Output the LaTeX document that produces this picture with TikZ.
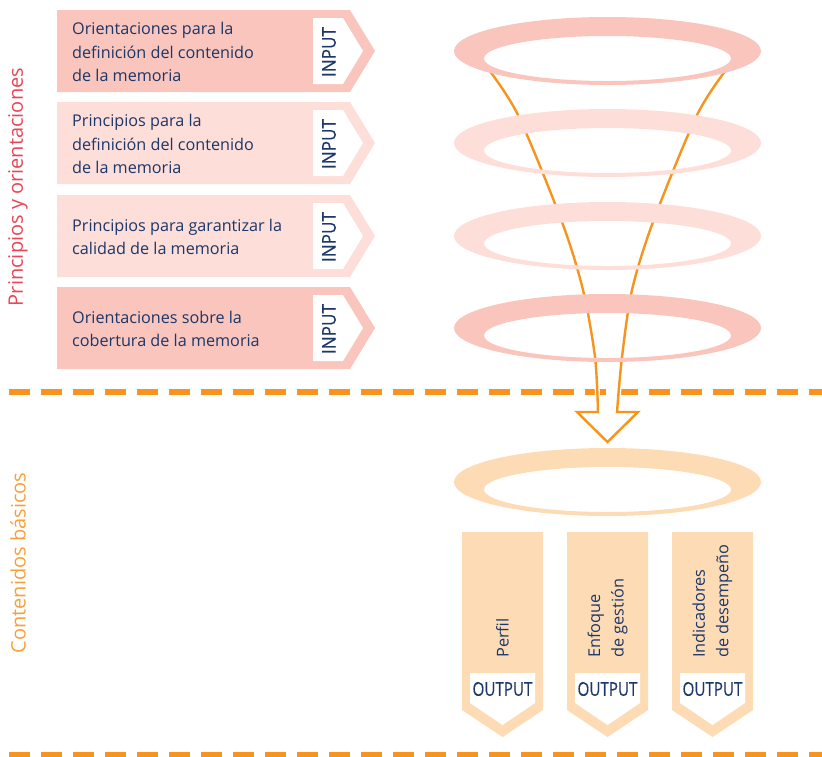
\documentclass[tikz,border=0pt]{standalone}
\usepackage{fontspec}
\setmainfont{Open Sans}
\newfontfamily\condf[FakeStretch=0.8,FakeBold=0.4]{Open Sans}
\newfontfamily\condg[FakeStretch=0.9,FakeBold=0.4]{Open Sans}
\definecolor{navy}{RGB}{28,55,105}
\definecolor{pinkA}{RGB}{249,197,189}
\definecolor{pinkB}{RGB}{253,222,216}
\definecolor{peach}{RGB}{253,220,181}
\definecolor{orng}{RGB}{247,148,30}
\definecolor{redlab}{RGB}{233,69,86}
\definecolor{orlab}{RGB}{247,160,60}
\begin{document}
\begin{tikzpicture}[x=1pt,y=-1pt,
  boxtext/.style={anchor=west, align=left, text=navy, font=\fontsize{16.2}{23.5}\selectfont, inner sep=0pt},
  intag/.style={rotate=90, text=navy, font=\condg\fontsize{19}{22}\selectfont, inner sep=0pt},
  outtag/.style={text=navy, font=\condf\fontsize{19}{22}\selectfont, inner sep=0pt},
  outtext/.style={rotate=90, anchor=west, align=left, text=navy, font=\fontsize{16.3}{23.5}\selectfont, inner sep=0pt},
  sectlab/.style={rotate=90, font=\fontsize{20}{24}\selectfont, inner sep=0pt},
  sepline/.style={orng, line width=6.3pt, dash pattern=on 21pt off 11pt},
  funnel/.style={orng, line width=2.4pt, line join=miter},
  halo/.style={white, line width=5pt},
]
\useasboundingbox (0,0) rectangle (822,756);

% section labels
\node[sectlab, text=redlab] (secA) at (18,187) {Principios y orientaciones};
\node[sectlab, text=orlab] (secB) at (18,563) {Contenidos básicos};

% separator lines
\draw[sepline] (8.5,392) -- (822,392);
\draw[sepline] (8.5,755.5) -- (822,755.5);

% input boxes
\foreach \cy/\col/\txt/\nm in {
  51/pinkA/{Orientaciones para la\\definición del contenido\\de la memoria}/a,
  143/pinkB/{Principios para la\\definición del contenido\\de la memoria}/b,
  236/pinkB/{Principios para garantizar la\\calidad de la memoria}/c,
  328/pinkA/{Orientaciones sobre la\\cobertura de la memoria}/d}{
  \fill[\col] (57,\cy-41) -- (350,\cy-41) -- (375,\cy) -- (350,\cy+41) -- (57,\cy+41) -- cycle;
  \fill[white] (313,\cy-33) -- (343,\cy-33) -- (363,\cy) -- (343,\cy+33) -- (313,\cy+33) -- cycle;
  \node[boxtext] (in\nm) at (72,\cy+1) {\txt};
  \node[intag] (tag\nm) at (329,\cy+1) {INPUT};
}

% funnel lines and arrow
\coordinate (ftop) at (607.5,442);
\draw[halo] plot[smooth] coordinates {(486,66) (518,115) (562,222) (583,290) (595,357) (598,412)};
\draw[halo] plot[smooth] coordinates {(729,66) (697,115) (653,222) (632,290) (622,357) (617,412)};
\draw[funnel] plot[smooth] coordinates {(486,66) (518,115) (562,222) (583,290) (595,357) (598,412)}
  -- (577,412) -- (ftop) -- (638,412) -- (617,412)
  -- plot[smooth] coordinates {(617,412) (622,357) (632,290) (653,222) (697,115) (729,66)};

% rings
\foreach \cy/\col in {51/pinkA,143/pinkB,236/pinkB,328/pinkA,482/peach}{
  \fill[\col, even odd rule] (607.5,\cy) ellipse [x radius=153.5, y radius=34]
    (607.5,\cy+7.5) ellipse [x radius=123.5, y radius=22.5];
}

% output boxes
\foreach \cx/\txt/\nm in {502.5/{Perfil}/a, 607.5/{Enfoque\\de gestión}/b, 712.5/{Indicadores\\de desempeño}/c}{
  \fill[peach] (\cx-40.5,532) -- (\cx+40.5,532) -- (\cx+40.5,710) -- (\cx,737) -- (\cx-40.5,710) -- cycle;
  \fill[white] (\cx-32.5,673) -- (\cx+32.5,673) -- (\cx+32.5,703) -- (\cx,725) -- (\cx-32.5,703) -- cycle;
  \node[outtext] (out\nm) at (\cx,658) {\txt};
  \node[outtag] (otag\nm) at (\cx,689) {OUTPUT};
}
\end{tikzpicture}
\end{document}
